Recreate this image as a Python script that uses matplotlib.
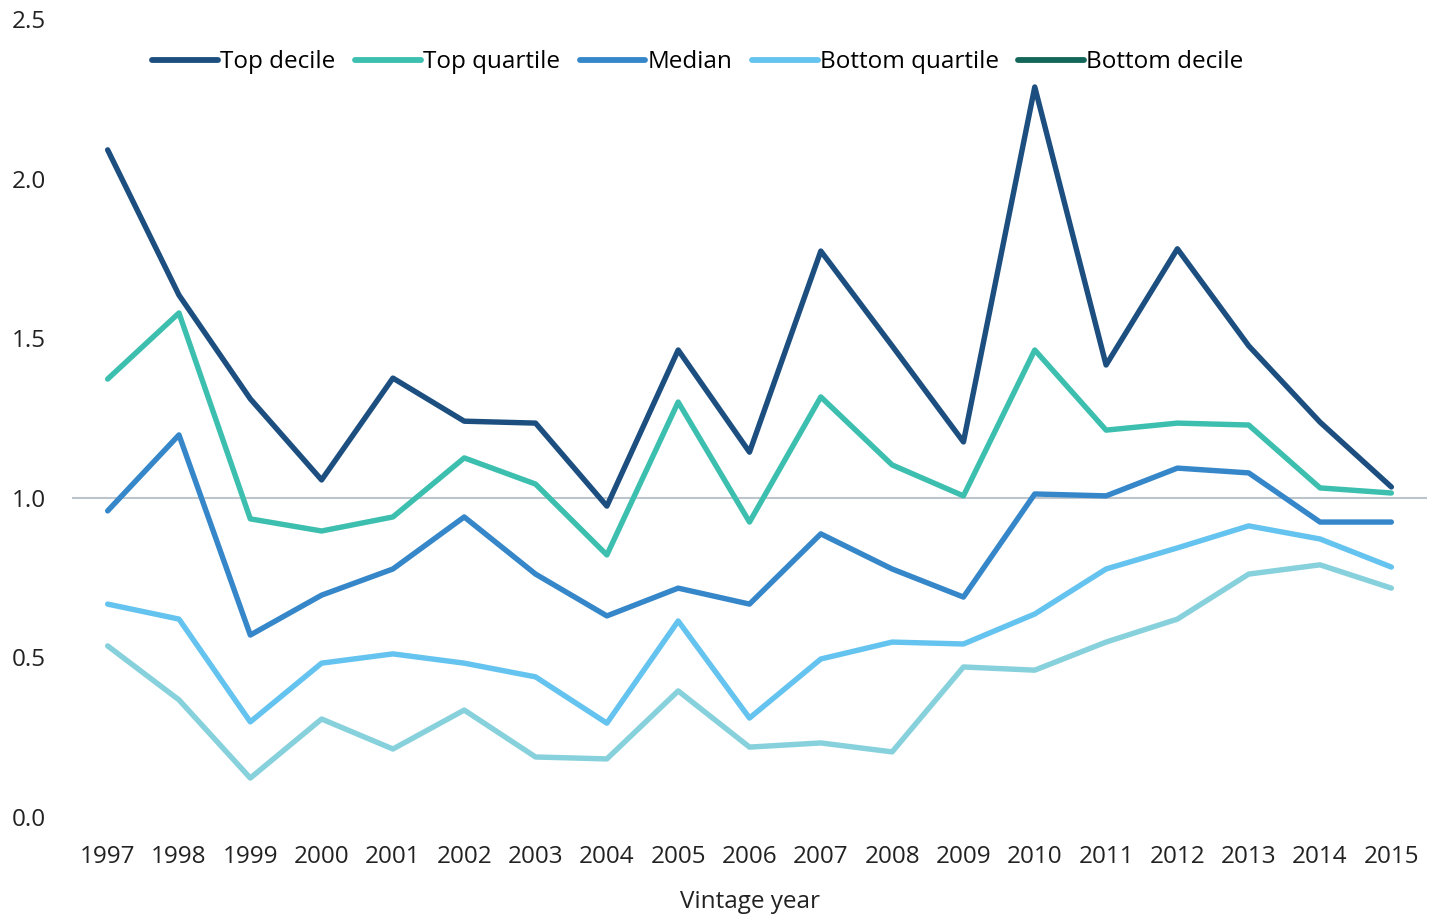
import matplotlib.pyplot as plt
from matplotlib.lines import Line2D

years = [str(y) for y in range(1997, 2016)]

top_decile = [2.09, 1.635, 1.31, 1.056, 1.375, 1.24, 1.234, 0.974, 1.463, 1.143,
              1.773, 1.476, 1.175, 2.287, 1.416, 1.78, 1.476, 1.237, 1.034]
top_quartile = [1.372, 1.579, 0.934, 0.896, 0.94, 1.125, 1.043, 0.821, 1.30, 0.924,
                1.316, 1.103, 1.006, 1.463, 1.212, 1.234, 1.228, 1.031, 1.015]
median = [0.959, 1.197, 0.57, 0.695, 0.777, 0.94, 0.761, 0.63, 0.717, 0.667,
          0.887, 0.777, 0.689, 1.012, 1.006, 1.093, 1.078, 0.924, 0.924]
bottom_quartile = [0.667, 0.62, 0.298, 0.482, 0.511, 0.482, 0.439, 0.294, 0.614, 0.31,
                   0.495, 0.548, 0.542, 0.636, 0.777, 0.843, 0.912, 0.871, 0.783]
bottom_decile = [0.536, 0.367, 0.122, 0.307, 0.213, 0.335, 0.188, 0.182, 0.395, 0.219,
                 0.232, 0.204, 0.47, 0.46, 0.548, 0.62, 0.761, 0.79, 0.717]

series = [
    ("Top decile", top_decile, "#1c4f80", "#1c4f80"),
    ("Top quartile", top_quartile, "#3cbfae", "#3cbfae"),
    ("Median", median, "#3587c9", "#3587c9"),
    ("Bottom quartile", bottom_quartile, "#65c3ef", "#65c3ef"),
    ("Bottom decile", bottom_decile, "#86d1dc", "#13665a"),
]

plt.rcParams['font.family'] = ['Open Sans', 'DejaVu Sans']

fig = plt.figure(figsize=(14.34, 9.18), dpi=100)
ax = fig.add_axes([72 / 1434, 1 - 817 / 918, 1355 / 1434, 798 / 918])

x = list(range(len(years)))
ax.axhline(1.0, color="#bcc5cc", lw=1.5, zorder=1)

handles = []
for name, vals, col, leg_col in series:
    ax.plot(x, vals, color=col, lw=3.9, solid_joinstyle='round',
            solid_capstyle='round', zorder=3)
    handles.append(Line2D([0], [0], color=leg_col, lw=4.2, solid_capstyle='round'))

ax.set_xlim(-0.5, len(years) - 0.5)
ax.set_ylim(0, 2.5)
ax.set_xticks(x)
ax.set_xticklabels(years)
ax.set_yticks([0, 0.5, 1.0, 1.5, 2.0, 2.5])
ax.set_yticklabels(["0.0", "0.5", "1.0", "1.5", "2.0", "2.5"])
ax.tick_params(length=0, labelsize=17.5, colors="#222222")
ax.tick_params(axis='x', pad=20)
ax.tick_params(axis='y', pad=19)
for s in ax.spines.values():
    s.set_visible(False)

ax.set_xlabel("Vintage year", fontsize=17.5, color="#222222", labelpad=15)

ax.legend(handles, [s[0] for s in series], loc="center", ncol=5,
          bbox_to_anchor=(0.462, 0.946), frameon=False, fontsize=17.5,
          handlelength=2.7, handletextpad=0.1, columnspacing=0.8)

fig.savefig("out.png", dpi=100)
